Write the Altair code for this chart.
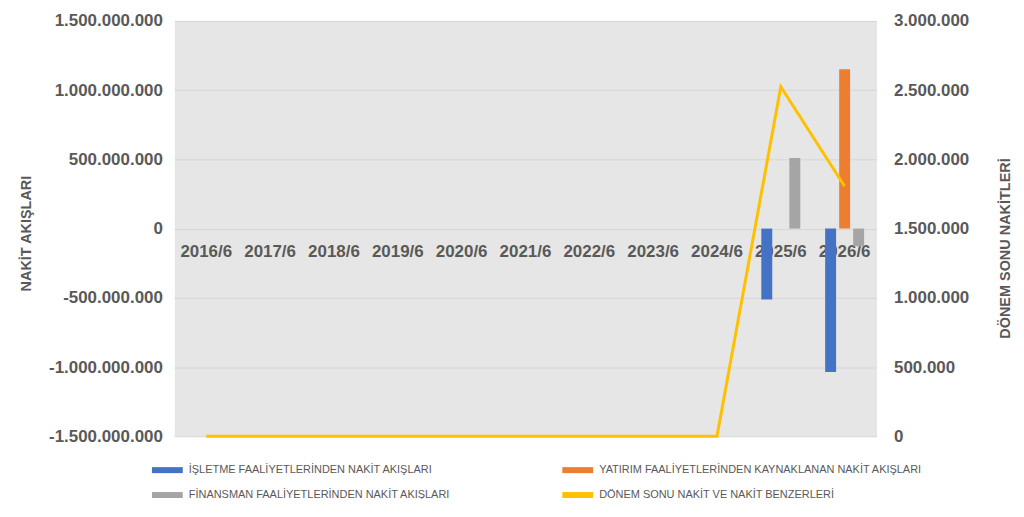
import altair as alt
import pandas as pd

periods = ["2016/6", "2017/6", "2018/6", "2019/6", "2020/6", "2021/6",
           "2022/6", "2023/6", "2024/6", "2025/6", "2026/6"]

series_names = [
    "İŞLETME FAALİYETLERİNDEN NAKİT AKIŞLARI",
    "YATIRIM FAALİYETLERİNDEN KAYNAKLANAN NAKİT AKIŞLARI",
    "FİNANSMAN FAALİYETLERİNDEN NAKİT AKIŞLARI",
]
line_name = "DÖNEM SONU NAKİT VE NAKİT BENZERLERİ"

isletme = [0, 0, 0, 0, 0, 0, 0, 0, 0, -512_000_000, -1_036_000_000]
yatirim = [0, 0, 0, 0, 0, 0, 0, 0, 0, 0, 1_151_000_000]
finansman = [0, 0, 0, 0, 0, 0, 0, 0, 0, 510_000_000, -127_000_000]
donem_sonu = [0, 0, 0, 0, 0, 0, 0, 0, 0, 2_525_000, 1_806_000]

left_ticks = [-1_500_000_000, -1_000_000_000, -500_000_000, 0,
              500_000_000, 1_000_000_000, 1_500_000_000]
right_ticks = [0, 500_000, 1_000_000, 1_500_000, 2_000_000, 2_500_000, 3_000_000]

# legend order (filled column by column): İşletme, Finansman | Yatırım, Dönem sonu
legend_order = [series_names[0], series_names[2], series_names[1], line_name]
legend_colors = ["#4472C4", "#A5A5A5", "#ED7D31", "#FFC000"]

rows = []
for name, vals in zip(series_names, [isletme, yatirim, finansman]):
    for p, v in zip(periods, vals):
        rows.append({"period": p, "series": name, "value": v})
bar_df = pd.DataFrame(rows)
line_df = pd.DataFrame({"period": periods, "cash": donem_sonu})

FONT = "Liberation Sans"
TXT = "#595959"
dot_fmt = "(datum.value < 0 ? '-' : '') + replace(format(abs(datum.value), ','), /,/g, '.')"

x_enc = alt.X(
    "period:N", sort=periods,
    scale=alt.Scale(paddingInner=0.39, paddingOuter=0.195),
    axis=alt.Axis(title=None, orient="bottom", offset=-208.5, domain=False, ticks=False,
                  labelAngle=0, labelPadding=15, labelFont=FONT, labelFontSize=17,
                  labelFontWeight="bold", labelColor=TXT, grid=False),
)

bars = alt.Chart(bar_df).mark_bar().encode(
    x=x_enc,
    xOffset=alt.XOffset("series:N", scale=alt.Scale(domain=series_names, paddingInner=0.22)),
    y=alt.Y("value:Q",
            scale=alt.Scale(domain=[-1_500_000_000, 1_500_000_000], nice=False),
            axis=alt.Axis(title="NAKİT AKIŞLARI", values=left_ticks, labelExpr=dot_fmt,
                          grid=True, gridColor="#D6D6D6", gridWidth=1, domain=False, ticks=False,
                          labelPadding=12, labelFont=FONT, labelFontSize=17,
                          labelFontWeight="bold", labelColor=TXT,
                          titleFont=FONT, titleFontSize=14.5, titleFontWeight="bold",
                          titleColor=TXT, titleAngle=270, titleX=-148, titleY=213,
                          titleBaseline="middle", titleAlign="center")),
    color=alt.Color("series:N",
                    scale=alt.Scale(domain=legend_order, range=legend_colors),
                    legend=alt.Legend(title=None, orient="none", legendX=-13, legendY=445,
                                      columns=2, columnPadding=111, rowPadding=14,
                                      symbolType="M-2.58,-0.5L2.58,-0.5L2.58,0.5L-2.58,0.5Z",
                                      symbolSize=144, symbolStrokeWidth=0,
                                      labelFont=FONT, labelFontSize=11, labelColor=TXT,
                                      labelOffset=15.5, labelLimit=500)),
)

line = alt.Chart(line_df).mark_line(color="#FFC000", strokeWidth=3).encode(
    x=x_enc,
    y=alt.Y("cash:Q",
            scale=alt.Scale(domain=[0, 3_000_000], nice=False),
            axis=alt.Axis(title="DÖNEM SONU NAKİTLERİ", orient="right", values=right_ticks,
                          labelExpr=dot_fmt, grid=False, domain=False, ticks=False,
                          labelPadding=17, labelFont=FONT, labelFontSize=17,
                          labelFontWeight="bold", labelColor=TXT,
                          titleFont=FONT, titleFontSize=14.5, titleFontWeight="bold",
                          titleColor=TXT, titleAngle=270, titleX=129, titleY=228,
                          titleBaseline="middle", titleAlign="center")),
)

chart = alt.layer(bars, line).resolve_scale(y="independent").properties(
    width=705, height=417,
    autosize=alt.AutoSizeParams(type="none"),
    padding={"left": 167, "top": 12, "right": 140, "bottom": 62},
).configure_view(fill="#E6E6E6", stroke="transparent")

chart.save("out.html", embed_options={"renderer": "svg", "actions": False})
